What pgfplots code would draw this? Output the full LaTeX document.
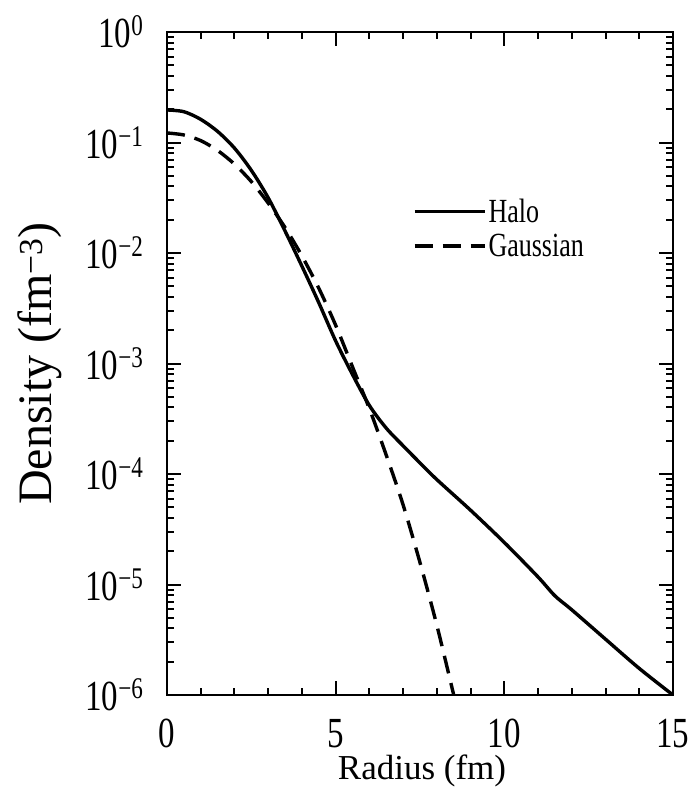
\documentclass[border=0pt]{standalone}
\usepackage{pgfplots}
\pgfplotsset{compat=1.18}
\usepackage{fontspec}
\setmainfont{Liberation Serif}
\newcommand{\st}[1]{\scalebox{1}[1.3]{#1}}
\begin{document}
\begin{tikzpicture}
\useasboundingbox (-167pt,-93pt) rectangle (525pt,695pt);
\begin{axis}[
  at={(0pt,0pt)}, anchor=south west,
  scale only axis, width=506pt, height=663pt,
  ymode=log, xmin=0, xmax=15, ymin=1e-6, ymax=1,
  axis line style={line width=2.6pt},
  every tick/.style={line width=2pt, black},
  major tick length=14pt, minor tick length=7pt,
  tick align=inside,
  xtick={0,5,10,15}, minor x tick num=4,
  ytick={1e-6,1e-5,1e-4,1e-3,1e-2,1e-1,1},
  yticklabels={\st{10\textsuperscript{−6}},\st{10\textsuperscript{−5}},\st{10\textsuperscript{−4}},\st{10\textsuperscript{−3}},\st{10\textsuperscript{−2}},\st{10\textsuperscript{−1}},\st{10\textsuperscript{0}}},
  xticklabel={\raisebox{-49pt}[0pt][0pt]{\st{\pgfmathprintnumber{\tick}}}},
  /pgf/number format/assume math mode=true,
  ticklabel style={font=\fontsize{33}{38}\selectfont},
  yticklabel style={xshift=-20pt},
  xlabel={Radius (fm)}, ylabel={Density (fm\textsuperscript{−3})},
  xlabel style={font=\fontsize{35}{40}\selectfont, at={(axis description cs:0.504,-0.114)}, anchor=center},
  ylabel style={font=\fontsize{48}{54}\selectfont, at={(axis description cs:-0.251,0.5)}, anchor=center},
  legend style={at={(0.486,0.751)}, anchor=north west, draw=none, fill=none,
    font=\fontsize{26}{30}\selectfont, row sep=6pt, inner sep=0pt},
  legend cell align=left,
  legend image code/.code={\draw[#1] (0pt,0pt) -- (58pt,0pt); \path (0pt,0pt) -- (70pt,0pt);},
]
\addplot[black, line width=3.4pt, smooth] coordinates {
(0,0.197) (0.5,0.19) (1,0.162) (1.5,0.126) (2,0.089) (2.5,0.056) (3,0.0316)
(3.5,0.0158) (4,0.00760) (4.5,0.00355) (5,0.00160) (5.5,7.94e-4) (6,4.17e-4)
(6.5,2.6e-4) (7,1.8e-4) (7.5,1.26e-4) (8,8.9e-5) (9,4.7e-5) (10,2.4e-5)
(11,1.17e-5) (11.5,7.9e-6) (12,5.9e-6) (13,3.2e-6) (14,1.74e-6) (15,1.0e-6)
};
\addlegendentry{\st{Halo}}
\addplot[black, line width=3.4pt, smooth, dash pattern=on 18pt off 10pt] coordinates {
(0,0.122) (0.5,0.117) (1,0.104) (1.5,0.0847) (2,0.0637) (2.5,0.0443) (3,0.0283)
(3.5,0.0170) (4,0.00940) (4.5,0.00480) (5,0.00222) (5.5,9.3e-4) (6,3.9e-4)
(6.5,1.48e-4) (7,5.25e-5) (7.5,1.58e-5) (8,4.27e-6) (8.5,1.0e-6)
};
\addlegendentry{\st{Gaussian}}
\end{axis}
\end{tikzpicture}
\end{document}
